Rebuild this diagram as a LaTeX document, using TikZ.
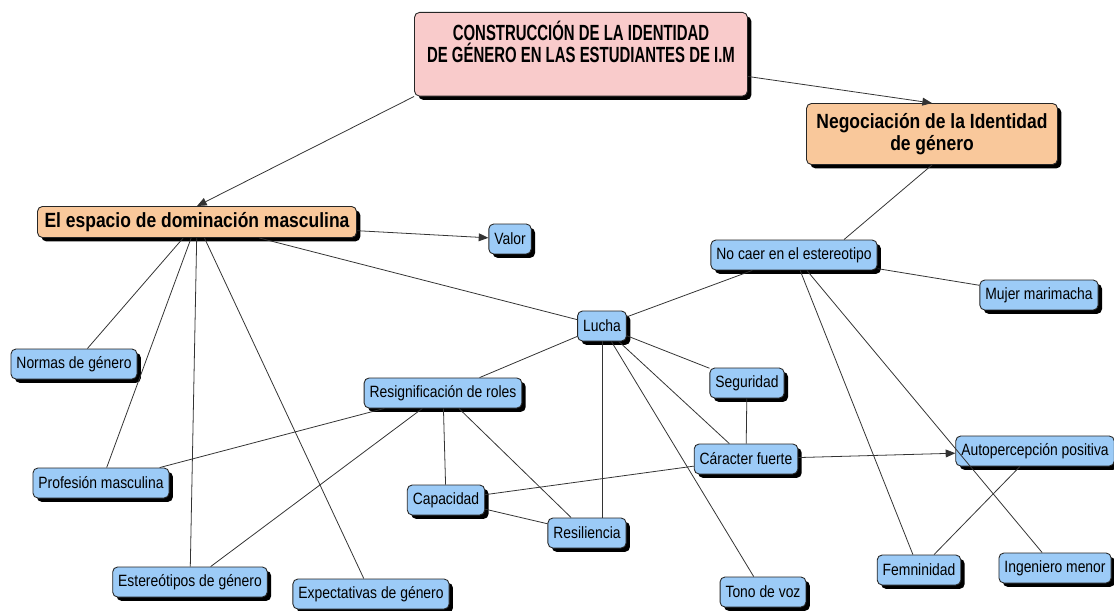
\documentclass[tikz,border=0pt]{standalone}
\usepackage{fontspec}
\setmainfont{Liberation Sans}[FakeStretch=0.85]
\newfontfamily\titlefont{Liberation Sans}[FakeStretch=0.68]
\usetikzlibrary{arrows.meta,shadows,calc}
\definecolor{cmpink}{HTML}{F9CBCB}
\definecolor{cmorange}{HTML}{F9C89B}
\definecolor{cmblue}{HTML}{9CCBF7}
\definecolor{cmline}{HTML}{333333}

\begin{document}
\begin{tikzpicture}[x=0.02cm,y=-0.02cm,
  box/.style={draw=black!85,line width=0.5pt,rounded corners=2.8pt,
              drop shadow={shadow xshift=2.2pt,shadow yshift=-2.2pt,
                           fill=black,opacity=1}},
  mainbox/.style={box,fill=cmpink,align=center,minimum width=6.66cm,
              inner ysep=5pt,text depth=14pt,
              font=\titlefont\bfseries\fontsize{12.5}{12.5}\selectfont},
  topic/.style={box,fill=cmorange,align=center,
              font=\bfseries\fontsize{11.7}{12.5}\selectfont},
  concept/.style={box,fill=cmblue,inner xsep=0.11cm,minimum height=0.6cm,
              font=\fontsize{9.3}{10.5}\selectfont},
  link/.style={draw=cmline,line width=0.45pt},
  arr/.style={link,-{Triangle[length=5.5pt,width=4.5pt]}}
]
\useasboundingbox (0,0) rectangle (1114,611);

% ---- Main and topic boxes -----------------------------------
\node[mainbox,anchor=north] (title) at (581,12)
  {CONSTRUCCIÓN DE LA IDENTIDAD\\DE GÉNERO EN LAS ESTUDIANTES DE I.M};
\node[topic,minimum width=5.02cm,minimum height=1.22cm] (neg) at (932,134)
  {Negociación de la Identidad\\de género};
\node[topic,minimum width=6.38cm,minimum height=0.62cm] (esp) at (197,222)
  {El espacio de dominación masculina};

% ---- Concepts -----------------------------------------------
\node[concept] (valor)  at (510,239) {Valor};
\node[concept] (nocaer) at (794,255) {No caer en el estereotipo};
\node[concept] (mujer)  at (1039,295) {Mujer marimacha};
\node[concept] (lucha)  at (602,326) {Lucha};
\node[concept] (normas) at (74,364)  {Normas de género};
\node[concept] (segur)  at (747,383) {Seguridad};
\node[concept] (resig)  at (443,393) {Resignificación de roles};
\node[concept] (auto)   at (1035,451) {Autopercepción positiva};
\node[concept] (carac)  at (746,459) {Cáracter fuerte};
\node[concept] (prof)   at (101,483) {Profesión masculina};
\node[concept] (capac)  at (446,500) {Capacidad};
\node[concept] (resil)  at (587,533) {Resiliencia};
\node[concept] (ing)    at (1055,568) {Ingeniero menor};
\node[concept] (femn)   at (919,570) {Femninidad};
\node[concept] (ester)  at (190,582) {Estereótipos de género};
\node[concept] (tono)   at (763,592) {Tono de voz};
\node[concept] (expect) at (371,594) {Expectativas de género};

% ---- Arrows -------------------------------------------------
\draw[arr] (title.south west) -- (esp.north);
\draw[arr] ($(title.south east)+(0,-20)$) -- (neg.north);
\draw[arr] (esp) -- (valor);
\draw[arr] (carac) -- (auto);

% ---- Links --------------------------------------------------
\draw[link] (neg.south) -- ($(nocaer.north)+(50,0)$);
\draw[link] (esp) -- (normas);
\draw[link] (esp) -- (prof);
\draw[link] (esp) -- (ester);
\draw[link] (esp) -- (expect);
\draw[link] (esp) -- (lucha);
\draw[link] (nocaer) -- (lucha);
\draw[link] (nocaer) -- (mujer);
\draw[link] (nocaer) -- (femn);
\draw[link] (nocaer) -- (ing);
\draw[link] (lucha) -- (resig);
\draw[link] (lucha) -- (segur);
\draw[link] (lucha.south) -- (lucha.south |- resil.north);
\draw[link] (lucha) -- (carac);
\draw[link] (lucha) -- (tono);
\draw[link] (segur) -- (carac);
\draw[link] (resig) -- (prof);
\draw[link] (resig) -- (ester);
\draw[link] (resig) -- (capac);
\draw[link] (resig) -- (resil);
\draw[link] (capac) -- (resil);
\draw[link] (carac) -- (capac);
\draw[link] (auto) -- (femn);

\end{tikzpicture}
\end{document}
